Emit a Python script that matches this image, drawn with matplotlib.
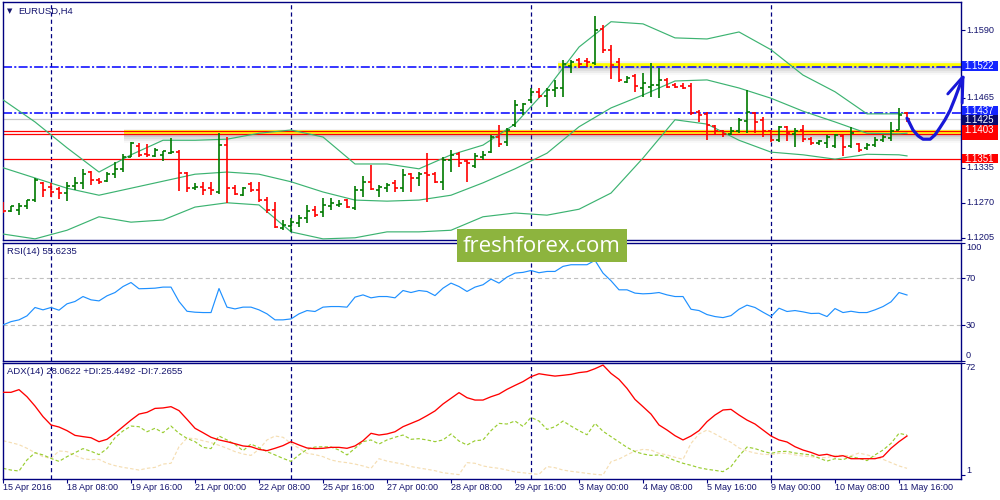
import numpy as np
import matplotlib
matplotlib.use("Agg")
import matplotlib.pyplot as plt
from matplotlib.collections import LineCollection
from matplotlib.patches import Rectangle
from matplotlib import patheffects as pe
from matplotlib.transforms import blended_transform_factory as blend

plt.rcParams['font.family'] = ['Liberation Sans', 'DejaVu Sans']
plt.rcParams['lines.scale_dashes'] = False

# ---------------- data ----------------
symbol = "EURUSD,H4"
rsi_title = "RSI(14) 55.6235"
adx_title = "ADX(14) 28.0622 +DI:25.4492 -DI:7.2655"
watermark = "freshforex.com"

date_labels = ["15 Apr 2016", "18 Apr 08:00", "19 Apr 16:00", "21 Apr 00:00", "22 Apr 08:00",
               "25 Apr 16:00", "27 Apr 00:00", "28 Apr 08:00", "29 Apr 16:00", "3 May 00:00",
               "4 May 08:00", "5 May 16:00", "9 May 00:00", "10 May 08:00", "11 May 16:00"]
date_label_bars = [0, 8, 16, 24, 32, 40, 48, 56, 64, 72, 80, 88, 96, 104, 112]
separator_bars = [6, 36, 66, 96]

open_ = [1.1270, 1.1255, 1.1257, 1.1264, 1.1275, 1.1307, 1.1299, 1.1296, 1.1288, 1.1301,
         1.1307, 1.1327, 1.1312, 1.1310, 1.1323, 1.1333, 1.1355, 1.1375, 1.1361, 1.1357,
         1.1359, 1.1362, 1.1364, 1.1325, 1.1297, 1.1299, 1.1297, 1.1290, 1.1377, 1.1297,
         1.1284, 1.1305, 1.1294, 1.1275, 1.1257, 1.1223, 1.1227, 1.1232, 1.1242, 1.1257,
         1.1253, 1.1264, 1.1266, 1.1275, 1.1260, 1.1294, 1.1309, 1.1294, 1.1297, 1.1307,
         1.1297, 1.1323, 1.1316, 1.1325, 1.1323, 1.1309, 1.1349, 1.1361, 1.1347, 1.1338,
         1.1355, 1.1364, 1.1392, 1.1383, 1.1414, 1.1442, 1.1461, 1.1476, 1.1468, 1.1479,
         1.1483, 1.1524, 1.1535, 1.1533, 1.1529, 1.1593, 1.1554, 1.1531, 1.1494, 1.1505,
         1.1483, 1.1485, 1.1489, 1.1498, 1.1489, 1.1487, 1.1487, 1.1438, 1.1435, 1.1413,
         1.1403, 1.1398, 1.1403, 1.1422, 1.1437, 1.1424, 1.1403, 1.1387, 1.1411, 1.1398,
         1.1405, 1.1388, 1.1381, 1.1381, 1.1375, 1.1394, 1.1375, 1.1379, 1.1372, 1.1377,
         1.1387, 1.1390, 1.1405, 1.1437]
high = [1.1271, 1.1264, 1.1270, 1.1275, 1.1316, 1.1309, 1.1307, 1.1299, 1.1309, 1.1318,
        1.1333, 1.1329, 1.1316, 1.1327, 1.1346, 1.1361, 1.1383, 1.1381, 1.1379, 1.1372,
        1.1366, 1.1390, 1.1368, 1.1327, 1.1307, 1.1309, 1.1309, 1.1399, 1.1392, 1.1303,
        1.1299, 1.1309, 1.1309, 1.1281, 1.1271, 1.1238, 1.1242, 1.1247, 1.1266, 1.1264,
        1.1279, 1.1279, 1.1275, 1.1277, 1.1301, 1.1320, 1.1340, 1.1303, 1.1307, 1.1312,
        1.1333, 1.1325, 1.1327, 1.1362, 1.1327, 1.1355, 1.1368, 1.1364, 1.1349, 1.1362,
        1.1366, 1.1396, 1.1414, 1.1409, 1.1461, 1.1455, 1.1483, 1.1483, 1.1483, 1.1498,
        1.1535, 1.1535, 1.1539, 1.1539, 1.1617, 1.1600, 1.1563, 1.1539, 1.1505, 1.1509,
        1.1511, 1.1529, 1.1520, 1.1502, 1.1492, 1.1492, 1.1492, 1.1442, 1.1438, 1.1414,
        1.1405, 1.1411, 1.1427, 1.1479, 1.1438, 1.1429, 1.1405, 1.1413, 1.1413, 1.1409,
        1.1414, 1.1392, 1.1387, 1.1396, 1.1398, 1.1398, 1.1411, 1.1381, 1.1381, 1.1392,
        1.1396, 1.1420, 1.1446, 1.1438]
low = [1.1251, 1.1253, 1.1247, 1.1258, 1.1271, 1.1281, 1.1281, 1.1277, 1.1273, 1.1294,
       1.1296, 1.1303, 1.1305, 1.1309, 1.1316, 1.1327, 1.1355, 1.1355, 1.1355, 1.1355,
       1.1348, 1.1361, 1.1292, 1.1290, 1.1294, 1.1284, 1.1284, 1.1286, 1.1270, 1.1284,
       1.1283, 1.1290, 1.1271, 1.1251, 1.1223, 1.1219, 1.1216, 1.1225, 1.1232, 1.1244,
       1.1244, 1.1257, 1.1262, 1.1260, 1.1257, 1.1281, 1.1294, 1.1281, 1.1290, 1.1290,
       1.1290, 1.1290, 1.1301, 1.1271, 1.1307, 1.1294, 1.1327, 1.1336, 1.1309, 1.1335,
       1.1349, 1.1362, 1.1374, 1.1375, 1.1411, 1.1433, 1.1455, 1.1464, 1.1448, 1.1466,
       1.1466, 1.1511, 1.1520, 1.1522, 1.1526, 1.1548, 1.1500, 1.1494, 1.1492, 1.1476,
       1.1466, 1.1466, 1.1464, 1.1483, 1.1483, 1.1481, 1.1433, 1.1420, 1.1387, 1.1396,
       1.1392, 1.1396, 1.1400, 1.1400, 1.1400, 1.1392, 1.1383, 1.1383, 1.1385, 1.1374,
       1.1383, 1.1377, 1.1377, 1.1372, 1.1372, 1.1357, 1.1372, 1.1364, 1.1368, 1.1374,
       1.1383, 1.1385, 1.1405, 1.1420]
close = [1.1255, 1.1264, 1.1264, 1.1275, 1.1312, 1.1294, 1.1290, 1.1288, 1.1301, 1.1307,
         1.1323, 1.1312, 1.1309, 1.1323, 1.1333, 1.1355, 1.1381, 1.1359, 1.1359, 1.1368,
         1.1366, 1.1364, 1.1325, 1.1297, 1.1299, 1.1294, 1.1294, 1.1377, 1.1297, 1.1286,
         1.1297, 1.1294, 1.1275, 1.1257, 1.1225, 1.1229, 1.1234, 1.1242, 1.1255, 1.1247,
         1.1266, 1.1270, 1.1268, 1.1262, 1.1294, 1.1309, 1.1296, 1.1299, 1.1303, 1.1297,
         1.1322, 1.1316, 1.1323, 1.1322, 1.1309, 1.1349, 1.1359, 1.1344, 1.1344, 1.1357,
         1.1359, 1.1392, 1.1379, 1.1405, 1.1451, 1.1453, 1.1476, 1.1468, 1.1479, 1.1483,
         1.1528, 1.1531, 1.1528, 1.1531, 1.1591, 1.1554, 1.1526, 1.1498, 1.1502, 1.1487,
         1.1492, 1.1489, 1.1498, 1.1485, 1.1485, 1.1483, 1.1437, 1.1433, 1.1414, 1.1403,
         1.1398, 1.1403, 1.1424, 1.1438, 1.1420, 1.1403, 1.1387, 1.1411, 1.1400, 1.1403,
         1.1388, 1.1381, 1.1385, 1.1392, 1.1396, 1.1374, 1.1400, 1.1368, 1.1377, 1.1387,
         1.1392, 1.1403, 1.1433, 1.1425]

band_bars = [0, 4, 8, 12, 16, 20, 24, 28, 32, 36, 40, 44, 48, 52, 56, 60, 64, 68, 72, 76,
             80, 84, 88, 92, 96, 100, 104, 108, 112, 113]
bb_upper = [1.1461, 1.1420, 1.1372, 1.1327, 1.1359, 1.1386, 1.1386, 1.1388, 1.1399, 1.1405,
            1.1392, 1.1342, 1.1342, 1.1333, 1.1359, 1.1377, 1.1416, 1.1481, 1.1559, 1.1606,
            1.1602, 1.1576, 1.1574, 1.1587, 1.1554, 1.1507, 1.1476, 1.1435, 1.1435, 1.1437]
bb_middle = [1.1335, 1.1316, 1.1297, 1.1284, 1.1297, 1.1310, 1.1323, 1.1327, 1.1323, 1.1309,
             1.1290, 1.1275, 1.1273, 1.1275, 1.1284, 1.1307, 1.1333, 1.1362, 1.1411, 1.1446,
             1.1470, 1.1496, 1.1498, 1.1483, 1.1464, 1.1440, 1.1420, 1.1399, 1.1398, 1.1399]
bb_lower = [1.1212, 1.1203, 1.1219, 1.1244, 1.1234, 1.1238, 1.1262, 1.1270, 1.1266, 1.1216,
            1.1203, 1.1205, 1.1216, 1.1216, 1.1219, 1.1244, 1.1251, 1.1247, 1.1258, 1.1288,
            1.1353, 1.1424, 1.1416, 1.1386, 1.1364, 1.1359, 1.1351, 1.1360, 1.1359, 1.1357]

rsi = [30.2, 33.0, 34.5, 37.9, 45.0, 43.0, 45.0, 42.7, 48.1, 50.1,
       54.3, 51.5, 50.6, 54.9, 57.7, 62.8, 66.2, 60.9, 61.1, 61.4,
       62.3, 62.3, 50.1, 41.8, 41.0, 40.7, 40.7, 61.1, 45.3, 43.8,
       45.3, 45.3, 43.0, 39.6, 34.5, 34.5, 35.3, 39.6, 42.4, 41.6,
       45.3, 45.8, 45.8, 45.3, 53.8, 55.7, 53.2, 54.3, 54.3, 53.2,
       59.4, 57.7, 59.4, 58.6, 55.1, 61.4, 65.7, 62.8, 58.6, 62.3,
       64.3, 69.1, 65.7, 70.8, 74.2, 74.8, 76.4, 74.5, 75.6, 75.6,
       79.9, 81.3, 81.3, 81.3, 85.0, 74.2, 67.7, 60.0, 60.0, 57.2,
       56.6, 56.9, 57.7, 55.7, 54.3, 54.3, 43.5, 42.4, 39.0, 37.3,
       36.4, 38.1, 43.5, 47.0, 45.0, 41.0, 37.3, 44.4, 41.6, 42.4,
       41.3, 39.9, 40.1, 37.3, 44.1, 40.7, 41.8, 40.7, 40.7, 43.0,
       45.8, 49.8, 57.7, 55.6]
adx = [53.7, 53.7, 55.4, 50.9, 45.0, 38.3, 33.0, 31.7, 29.4, 26.4,
       25.6, 24.9, 22.4, 23.9, 27.7, 31.9, 36.1, 39.9, 41.0, 43.5,
       43.8, 44.6, 42.1, 36.6, 30.9, 28.1, 25.2, 23.5, 22.4, 21.1,
       19.7, 19.2, 17.5, 16.7, 18.2, 19.9, 22.4, 20.3, 18.4, 18.0,
       18.2, 18.8, 18.8, 18.2, 19.7, 23.0, 27.7, 26.6, 27.3, 28.7,
       31.9, 34.0, 36.1, 38.9, 41.9, 46.3, 49.9, 53.5, 50.3, 48.8,
       48.8, 50.9, 52.6, 55.6, 58.1, 60.5, 63.6, 65.5, 64.7, 64.0,
       64.5, 65.1, 66.2, 66.8, 68.7, 71.0, 65.7, 61.9, 56.2, 49.2,
       44.6, 39.9, 33.0, 29.8, 26.2, 23.5, 26.0, 29.4, 35.1, 39.3,
       42.5, 42.9, 39.3, 36.1, 33.6, 29.8, 26.0, 23.5, 22.2, 19.2,
       17.1, 15.6, 13.7, 14.4, 12.9, 13.5, 11.6, 11.6, 11.6, 11.6,
       12.9, 18.2, 22.4, 26.0]
plus_di = [5.5, 4.4, 3.8, 10.8, 15.4, 14.0, 11.8, 9.9, 12.9, 15.4,
           18.0, 16.3, 14.2, 18.0, 24.9, 29.2, 32.3, 31.9, 28.7, 30.9,
           28.1, 32.3, 27.7, 24.5, 22.4, 18.8, 18.0, 26.0, 23.5, 20.7,
           16.7, 20.9, 18.6, 16.1, 14.0, 11.8, 9.9, 14.0, 17.5, 19.0,
           19.2, 19.0, 17.1, 14.0, 18.2, 22.4, 23.5, 20.9, 23.5, 25.2,
           26.6, 23.9, 24.3, 23.5, 22.4, 23.5, 27.3, 22.8, 20.3, 23.0,
           23.5, 29.4, 34.0, 33.6, 35.5, 32.1, 37.8, 35.5, 30.2, 31.9,
           35.5, 32.3, 29.4, 26.8, 34.0, 29.0, 25.6, 22.2, 18.8, 16.1,
           14.6, 13.7, 14.0, 12.5, 10.4, 8.7, 7.4, 5.9, 4.9, 4.2,
           3.4, 6.6, 13.3, 19.0, 18.0, 16.3, 15.0, 16.1, 16.3, 15.2,
           14.6, 14.0, 12.0, 10.1, 11.6, 11.0, 12.9, 11.8, 10.4, 14.0,
           17.1, 21.3, 27.7, 26.6]
minus_di = [23.0, 21.8, 20.5, 18.2, 15.4, 12.9, 11.8, 16.5, 16.1, 13.7,
            11.6, 11.0, 11.2, 8.7, 7.2, 6.1, 5.3, 4.4, 5.5, 6.1,
            8.2, 8.7, 19.2, 24.7, 24.3, 23.0, 21.8, 20.1, 18.2, 16.1,
            14.6, 13.7, 17.5, 23.5, 26.0, 25.2, 21.3, 18.2, 15.0, 14.2,
            12.9, 10.8, 9.7, 9.1, 8.2, 7.0, 5.5, 11.6, 10.1, 9.1,
            8.2, 6.6, 5.7, 4.9, 4.0, 2.7, 2.1, 1.5, 9.1, 8.7,
            7.0, 6.1, 5.5, 4.4, 3.2, 2.7, 2.1, 1.7, 6.6, 5.9,
            4.4, 3.6, 3.0, 2.3, 1.7, 1.3, 9.7, 11.4, 14.0, 16.5,
            17.5, 17.1, 15.0, 14.0, 12.5, 11.2, 21.3, 27.3, 29.8, 27.3,
            24.5, 22.0, 18.4, 16.5, 15.2, 14.4, 14.2, 15.0, 15.0, 14.0,
            13.3, 12.9, 12.3, 12.3, 13.7, 13.7, 13.5, 15.2, 14.0, 12.7,
            11.2, 9.1, 7.0, 5.5]

price_ticks = [1.1205, 1.1270, 1.1335, 1.1465, 1.1590]
price_tick_labels = ["1.1205", "1.1270", "1.1335", "1.1465", "1.1590"]
rsi_ticks = [100, 70, 30, 0]
rsi_levels = [70, 30]
adx_ticks = [72, 1]

blue_levels = [1.1522, 1.1437]
red_levels = [1.1403, 1.1398, 1.1351]
bid_price = 1.1425
yellow_levels = [1.1526, 1.14005]
yellow_start_bars = [69.4, 15.1]

# right-hand price boxes, drawn in this order (the 1.1398 box sits hidden under 1.1403)
box_prices = [1.1351, 1.1398, 1.1403, 1.1425, 1.1437, 1.1522]
box_texts = ["1.1351", "", "1.1403", "1.1425", "1.1437", "1.1522"]
box_colors = ["#ff0000", "#ff0000", "#ff0000", "#0a0a6e", "#1424ff", "#1424ff"]
box_shift_px = [-0.5, 1.5, -1.5, 0.8, -2.0, -1.0]

# hand-drawn forecast arrow (bar index, price)
arrow_bars = [113.0, 113.25, 113.75, 114.4, 115.0, 115.9, 116.5, 117.1, 117.75, 118.4, 119.0, 119.6, 120.0]
arrow_prices = [1.1427, 1.1420, 1.1405, 1.1394, 1.1388, 1.1388, 1.1396, 1.1409, 1.1424, 1.1442,
                1.1464, 1.1488, 1.1503]
arrow_head_bars = [118.1, 120.0, 119.9]
arrow_head_prices = [1.1472, 1.1504, 1.1455]

# ---------------- layout ----------------
W, H = 1000, 500
NAVY = "#000080"
TXT = "#14146e"


def px_rect(l, t, r, b):
    return [l / W, 1 - b / H, (r - l) / W, (b - t) / H]


fig = plt.figure(figsize=(10, 5), dpi=100)
fig.patch.set_facecolor("white")
ax = fig.add_axes(px_rect(2.5, 2, 961, 240))
ax_r = fig.add_axes(px_rect(2.5, 242.7, 961, 360.5))
ax_a = fig.add_axes(px_rect(2.5, 363, 961, 479))
AXW = 958.5

XLIM = (-0.0625, 119.75)
for a in (ax, ax_r, ax_a):
    a.set_xlim(*XLIM)
    for s in a.spines.values():
        s.set_color(NAVY)
        s.set_linewidth(1.0)
    a.set_facecolor("white")
    a.tick_params(axis="x", bottom=False, labelbottom=False)
    a.tick_params(axis="y", left=False, labelleft=False, right=True, labelright=False,
                  length=3, width=0.8, color=NAVY, direction="out")
    for sb in separator_bars:
        a.axvline(sb, color=NAVY, lw=0.9, linestyle=(0, (3.0, 2.2)), zorder=1.2)

YLIM = (1.12009, 1.16426)
ax.set_ylim(*YLIM)
ax_r.set_ylim(0, 100)
ax_a.set_ylim(-1.27, 72.3)

# ---------------- price panel ----------------
o = np.array(open_)
h = np.array(high)
l = np.array(low)
c = np.array(close)
xs = np.arange(len(c))
segs_up, segs_dn = [], []
for i in xs:
    s = [[(i, l[i]), (i, h[i])], [(i - 0.38, o[i]), (i, o[i])], [(i, c[i]), (i + 0.38, c[i])]]
    (segs_up if c[i] >= o[i] else segs_dn).extend(s)
ax.add_collection(LineCollection(segs_up, colors="#007a00", linewidths=1.2, zorder=4))
ax.add_collection(LineCollection(segs_dn, colors="#ff0000", linewidths=1.2, zorder=4))

for band in (bb_upper, bb_middle, bb_lower):
    ax.plot(band_bars, band, color="#3cb371", lw=0.85, zorder=3)

shadow = [pe.SimpleLineShadow(offset=(0, 1.2), shadow_color="0.35", alpha=0.08),
          pe.SimpleLineShadow(offset=(0, -1.5), shadow_color="0.3", alpha=0.20),
          pe.SimpleLineShadow(offset=(0, -3.0), shadow_color="0.3", alpha=0.13),
          pe.SimpleLineShadow(offset=(0, -4.5), shadow_color="0.3", alpha=0.08),
          pe.SimpleLineShadow(offset=(0, -6.0), shadow_color="0.3", alpha=0.04),
          pe.Normal()]
for yl, xs0 in zip(yellow_levels, yellow_start_bars):
    ax.plot([xs0, XLIM[1]], [yl, yl], color="#ffff00", lw=2.6, solid_capstyle="butt",
            path_effects=shadow, zorder=2)

for yl in blue_levels:
    ax.axhline(yl, color="#0000ff", lw=1.1, linestyle=(0, (6.5, 1.6, 1.5, 1.6)), zorder=2.5)
for yl in red_levels:
    ax.axhline(yl, color="#ff0000", lw=0.9, zorder=2.5)
ax.axhline(bid_price, color="#c8c8c8", lw=0.9, zorder=1.5)

ax.plot(arrow_bars, arrow_prices, color="#1818d8", lw=2.3, solid_capstyle="round",
        solid_joinstyle="round", clip_on=False, zorder=6)
ax.plot(arrow_head_bars, arrow_head_prices, color="#1818d8", lw=2.1, solid_capstyle="round",
        solid_joinstyle="miter", clip_on=False, zorder=6)

ax.set_yticks(price_ticks)
tr = blend(ax.transAxes, ax.transData)
for p, t in zip(price_ticks, price_tick_labels):
    ax.text(1 + 5 / AXW, p, t, transform=tr, ha="left", va="center", fontsize=6.6,
            color=TXT, clip_on=False)

px_price = (YLIM[1] - YLIM[0]) / 238.0
box_h = 9.4 * px_price
for k, (p, t, fc, sh) in enumerate(zip(box_prices, box_texts, box_colors, box_shift_px)):
    z = 20 + 2 * k
    yc = p - sh * px_price
    ax.add_patch(Rectangle((1 + 1.2 / AXW, yc - box_h / 2), 36 / AXW, box_h, transform=tr,
                           fc=fc, ec="none", clip_on=False, zorder=z))
    if t:
        ax.text(1 + 3.5 / AXW, yc - 0.3 * px_price, t, transform=tr, ha="left", va="center",
                fontsize=7.0, color="white", clip_on=False, zorder=z + 1)

# ---------------- RSI panel ----------------
ax_r.plot(xs, rsi, color="#1e90ff", lw=0.85, zorder=3)
for lv in rsi_levels:
    ax_r.axhline(lv, color="#c0c0c0", lw=0.8, linestyle=(0, (3, 2.2)), zorder=1)
ax_r.set_yticks(rsi_ticks)
trr = blend(ax_r.transAxes, ax_r.transData)
for v in rsi_ticks:
    va = "top" if v == max(rsi_ticks) else ("bottom" if v == min(rsi_ticks) else "center")
    ax_r.text(1 + 5 / AXW, v, str(v), transform=trr, ha="left", va=va, fontsize=6.6,
              color=TXT, clip_on=False)

# ---------------- ADX panel ----------------
ax_a.plot(xs, minus_di, color="#f5deb3", lw=0.85, linestyle=(0, (2.5, 1.6)), zorder=2)
ax_a.plot(xs, plus_di, color="#9acd32", lw=0.85, linestyle=(0, (2.5, 1.6)), zorder=2.5)
ax_a.plot(xs, adx, color="#ff0000", lw=0.95, zorder=3)
ax_a.set_yticks(adx_ticks)
tra = blend(ax_a.transAxes, ax_a.transData)
for v in adx_ticks:
    va = "top" if v == max(adx_ticks) else "bottom"
    ax_a.text(1 + 5 / AXW, v, str(v), transform=tra, ha="left", va=va, fontsize=6.6,
              color=TXT, clip_on=False)

ax_a.set_xticks(date_label_bars)
ax_a.tick_params(axis="x", bottom=True, labelbottom=False, length=3, width=0.8,
                 color=NAVY, direction="out")
trx = blend(ax_a.transData, ax_a.transAxes)
for b, t in zip(date_label_bars, date_labels):
    ax_a.text(b + 0.05, -9.0 / 116, t, transform=trx, ha="left", va="center",
              fontsize=6.5, color=TXT, clip_on=False)

# ---------------- titles & watermark ----------------
fig.text(10 / W, 1 - 11 / H, "\u25BC", fontsize=5, family="DejaVu Sans", ha="center",
         va="center", color=TXT)
fig.text(18 / W, 1 - 11 / H, symbol, fontsize=6.8, ha="left", va="center", color=TXT)
fig.text(7 / W, 1 - 252 / H, rsi_title, fontsize=6.8, ha="left", va="center", color=TXT)
fig.text(7 / W, 1 - 372 / H, adx_title, fontsize=6.8, ha="left", va="center", color=TXT)

fig.patches.append(Rectangle((456.5 / W, 1 - 262 / H), (627 - 456.5) / W, 33 / H,
                             transform=fig.transFigure, fc="#8db43e", ec="none", zorder=10))
fig.text(541.7 / W, 1 - 246.5 / H, watermark, fontsize=16, family="Open Sans", ha="center",
         va="center", color="white", zorder=11)

fig.savefig("out.png", dpi=100, facecolor="white")
